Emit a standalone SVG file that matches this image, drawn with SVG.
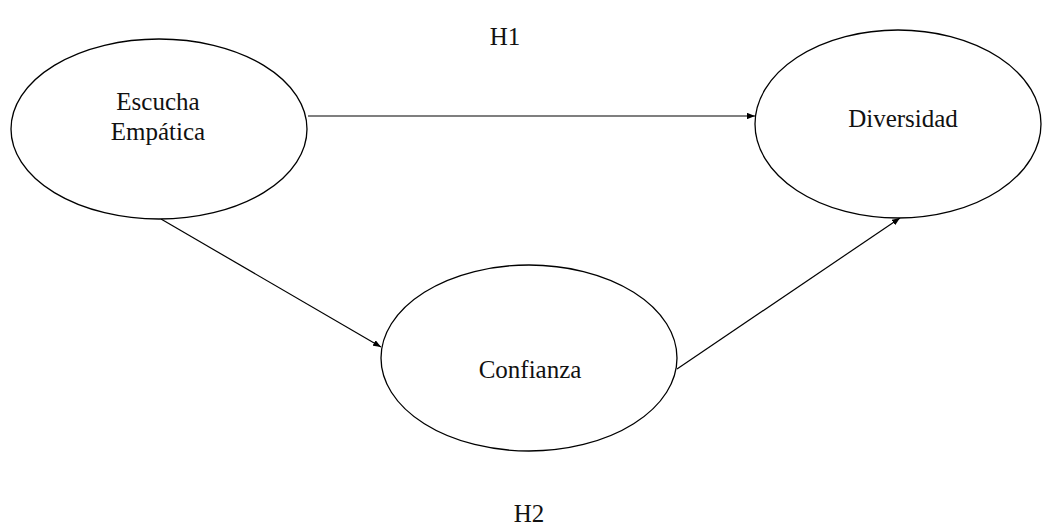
<svg xmlns="http://www.w3.org/2000/svg" width="1046" height="528" viewBox="0 0 1046 528">
<style>
.node{fill:#fff;stroke:#000;stroke-width:1.3}
.lbl{font-family:"Liberation Serif","Times New Roman",serif;font-size:25px;fill:#111;text-anchor:middle}
.edge{stroke:#000;stroke-width:1.2;fill:none;marker-end:url(#ah)}
</style>
<defs>
<marker id="ah" viewBox="0 0 10 8" refX="10" refY="4" markerWidth="8" markerHeight="6.4" markerUnits="userSpaceOnUse" orient="auto">
<path d="M0,0 L10,4 L0,8 Z" fill="#000"/>
</marker>
</defs>
<rect width="1046" height="528" fill="#fff"/>
<g id="connectors">
<line class="edge" x1="308" y1="116" x2="755" y2="116"/>
<line class="edge" x1="161" y1="219" x2="381" y2="347"/>
<line class="edge" x1="677" y1="369" x2="900" y2="218"/>
</g>
<g id="escucha">
<ellipse class="node" cx="159" cy="129" rx="148" ry="90"/>
<text class="lbl" x="158" y="110">Escucha</text>
<text class="lbl" x="158" y="140">Empática</text>
</g>
<g id="diversidad">
<ellipse class="node" cx="898" cy="124" rx="143" ry="94"/>
<text class="lbl" x="903" y="127">Diversidad</text>
</g>
<g id="confianza">
<ellipse class="node" cx="529" cy="358" rx="148" ry="93"/>
<text class="lbl" x="530" y="378">Confianza</text>
</g>
<g id="labels">
<text class="lbl" x="505" y="45">H1</text>
<text class="lbl" x="529" y="522">H2</text>
</g>
</svg>
